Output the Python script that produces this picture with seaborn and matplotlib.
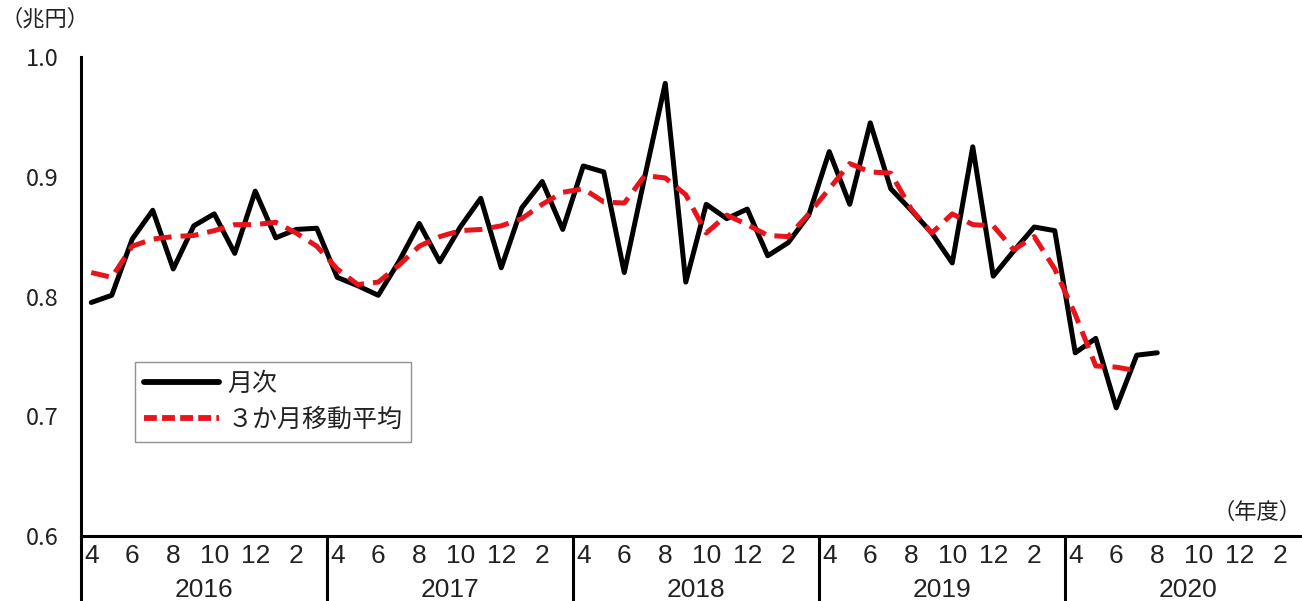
import numpy as np
import pandas as pd
import matplotlib
matplotlib.use('Agg')
import matplotlib.pyplot as plt
import seaborn as sns

# 年度ごとの月（4月〜翌3月）
fiscal_years = ['2016', '2017', '2018', '2019', '2020']
month_labels = ['4', '', '6', '', '8', '', '10', '', '12', '', '2', '']

# 月次（2016年4月〜2020年8月）
monthly = [0.795, 0.801, 0.848, 0.872, 0.823, 0.859, 0.869, 0.836, 0.888, 0.849, 0.856, 0.857,
           0.816, 0.809, 0.801, 0.829, 0.861, 0.829, 0.858, 0.882, 0.824, 0.874, 0.896, 0.856,
           0.909, 0.904, 0.820, 0.900, 0.978, 0.812, 0.877, 0.865, 0.873, 0.834, 0.845, 0.868,
           0.921, 0.877, 0.945, 0.890, 0.872, 0.853, 0.828, 0.925, 0.817, 0.838, 0.858, 0.855,
           0.753, 0.765, 0.707, 0.751, 0.753]

# 3か月移動平均（2016年4月〜2020年7月）
moving_avg = [0.820, 0.816, 0.842, 0.848, 0.850, 0.851, 0.855, 0.860, 0.860, 0.862, 0.853, 0.842,
              0.823, 0.810, 0.812, 0.826, 0.842, 0.850, 0.855, 0.856, 0.859, 0.865, 0.877, 0.887,
              0.890, 0.879, 0.878, 0.901, 0.899, 0.885, 0.853, 0.868, 0.860, 0.851, 0.850, 0.869,
              0.890, 0.911, 0.904, 0.903, 0.873, 0.853, 0.869, 0.860, 0.859, 0.839, 0.850, 0.823,
              0.785, 0.742, 0.741, 0.738]

yticks = [0.6, 0.7, 0.8, 0.9, 1.0]

n_months = len(fiscal_years) * 12
df_m = pd.DataFrame({'i': np.arange(len(monthly)), 'v': monthly})
df_a = pd.DataFrame({'i': np.arange(len(moving_avg)), 'v': moving_avg})

sns.set_style('white')
plt.rcParams['font.family'] = ['Noto Sans CJK JP', 'DejaVu Sans']
narrow = ['Liberation Sans Narrow', 'Liberation Sans', 'DejaVu Sans']

red = '#E8141C'
txt = '#222222'
fig = plt.figure(figsize=(13.02, 6.01), dpi=100)
ax = fig.add_axes([81 / 1302, 65 / 601, 1230 / 1302, 479 / 601])

sns.lineplot(data=df_m, x='i', y='v', ax=ax, color='black', lw=3.6, label='月次')
sns.lineplot(data=df_a, x='i', y='v', ax=ax, color=red, lw=3.6,
             linestyle=(0, (3.6, 1.8)), label='３か月移動平均')

ax.set_xlim(-0.5, n_months - 0.5)
ax.set_ylim(0.6, 1.0)
ax.set_xlabel('')
ax.set_ylabel('')

for s in ['top', 'right']:
    ax.spines[s].set_visible(False)
for s in ['left', 'bottom']:
    ax.spines[s].set_linewidth(2.2)
    ax.spines[s].set_color('black')

ax.set_yticks(yticks)
ax.set_yticklabels([f'{t:.1f}' for t in yticks], fontsize=17, color=txt)
ax.tick_params(axis='y', direction='in', length=6, width=2, pad=16)

ax.set_xticks(np.arange(n_months))
ax.set_xticklabels(month_labels * len(fiscal_years), fontsize=19, family=narrow, color=txt)
ax.tick_params(axis='x', direction='in', length=5, width=2, pad=6)

# 年度の区切り線と年度ラベル
for k in range(len(fiscal_years) + 1):
    ax.plot([k * 12 - 0.5] * 2, [0, -0.15], transform=ax.get_xaxis_transform(),
            color='black', lw=2.2, clip_on=False)
for k, fy in enumerate(fiscal_years):
    ax.text(k * 12 + 5.5, -0.113, fy, transform=ax.get_xaxis_transform(),
            ha='center', va='center', fontsize=19, family=narrow, color=txt)

fig.text(0 / 1302, 1 - 19 / 601, '（兆円）', ha='left', va='center', fontsize=16, color=txt)
fig.text(1302 / 1302, 1 - 512 / 601, '（年度）', ha='right', va='center', fontsize=16, color=txt)

leg = ax.legend(loc='upper left', bbox_to_anchor=(0.044, 0.363), borderaxespad=0,
                fontsize=18, frameon=True, fancybox=False, handlelength=3.0,
                handletextpad=0.35, labelspacing=0.4, borderpad=0.35)
leg.get_frame().set_edgecolor('#777777')
leg.get_frame().set_linewidth(1.0)
for h in leg.get_lines():
    h.set_linewidth(4.2)
leg.get_lines()[1].set_linestyle((0, (2.2, 0.9)))
for t in leg.get_texts():
    t.set_color(txt)

fig.savefig('out.png', dpi=100)
